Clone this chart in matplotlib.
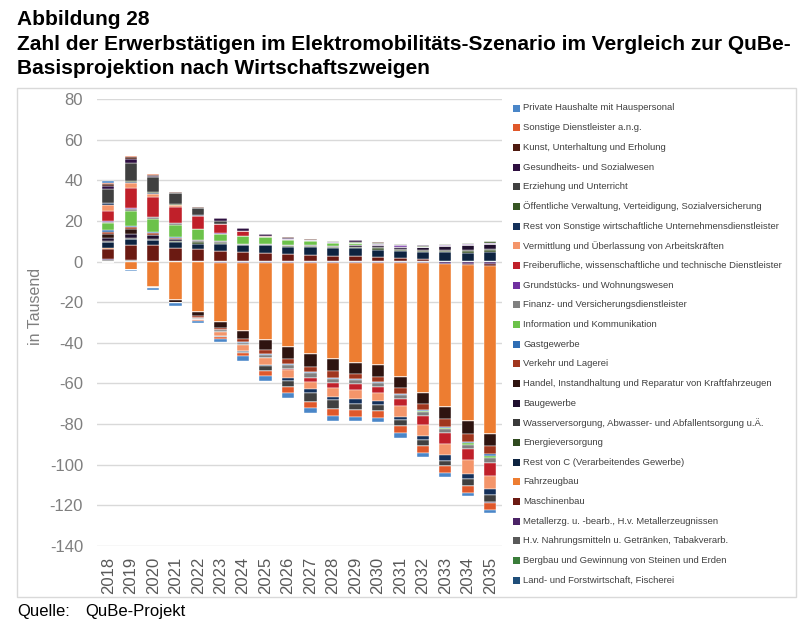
import matplotlib
matplotlib.use("Agg")
import matplotlib.pyplot as plt
import numpy as np
from matplotlib.patches import Rectangle

plt.rcParams['font.family'] = ['Liberation Sans', 'DejaVu Sans']
plt.rcParams['axes.unicode_minus'] = False

years = [str(y) for y in range(2018, 2036)]

# series in stacking order (first = bottom of positive stack / nearest zero on negative side)
land       = [0.2, 0.1, 0.1, 0.1, 0.1, 0.1, 0.1, 0.1, 0.1, 0.1, 0.1, 0.1, 0.1, 0.1, 0.1, 0.1, 0.1, 0.1]
bergbau    = [0.1, 0.1, 0.1, 0.0, 0.0, 0.0, 0.0, 0.0, 0.0, 0.0, 0.0, 0.0, 0.0, 0.0, 0.0, 0.0, 0.0, 0.0]
nahrung    = [0.4, 0.6, 0.3, 0.2, 0.2, 0.2, 0.2, 0.1, 0.1, 0.1, 0.1, 0.1, 0.1, 0.1, 0.1, 0.1, 0.1, 0.1]
metall     = [0.4, -0.2, -0.3, -0.4, -0.4, -0.5, -0.5, -0.6, -0.6, -0.6, -0.6, -0.6, -0.6, -0.6, -0.6, -1.0, -1.1, -1.1]
maschinen  = [5.1, 7.4, 7.4, 6.6, 5.7, 4.9, 4.4, 3.8, 3.3, 2.8, 2.5, 2.5, 2.1, 1.3, 1.0, 0.2, -0.6, -1.2]
fahrzeug   = [0.7, -3.9, -12.0, -18.5, -24.2, -29.2, -33.9, -38.0, -41.7, -45.0, -47.5, -49.4, -50.5, -56.0, -63.9, -70.6, -76.8, -82.4]
rest_c     = [2.5, 2.8, 2.5, 2.8, 2.8, 3.3, 3.3, 3.9, 3.8, 4.1, 4.1, 3.8, 3.6, 3.8, 3.3, 4.2, 4.1, 4.5]
energie    = [0.3, 0.3, 0.3, 0.3, 0.6, 0.5, 0.3, 0.3, 0.4, 0.4, 0.4, 0.5, 0.8, 0.6, 0.8, 0.6, 0.7, 0.9]
wasser     = [0.3, 0.3, 0.3, 0.3, 0.7, 0.6, 0.2, 0.2, 0.2, 0.2, 0.2, 0.3, 0.6, 0.5, 0.6, 0.5, 0.6, 0.7]
bau        = [1.6, 2.2, 1.9, 1.0, 0.3, 0.3, 0.3, 0.3, 0.3, 0.2, 0.3, 0.6, 0.6, 0.8, 1.3, 2.0, 2.4, 2.4]
handel     = [2.0, 2.1, -0.5, -1.6, -2.2, -3.1, -3.8, -5.1, -5.8, -6.2, -5.7, -5.2, -5.5, -5.8, -5.7, -6.0, -6.5, -6.1]
verkehr    = [1.0, 1.3, 1.3, 0.5, -0.8, -0.8, -1.3, -2.0, -2.5, -2.8, -3.3, -2.5, -2.5, -2.6, -3.0, -3.6, -3.6, -4.1]
gast       = [1.0, 0.3, 0.2, 0.1, -0.1, -0.2, -0.6, -0.5, -0.5, -0.5, -0.5, -0.6, -0.5, -0.5, -0.6, -0.5, -0.6, -0.6]
info       = [3.3, 7.2, 6.4, 6.0, 5.7, 3.9, 3.8, 3.3, 2.6, 2.0, 1.5, 1.1, 0.4, 0.2, -0.2, -0.5, -1.0, -1.3]
finanz     = [0.8, 1.3, 1.0, 1.0, -0.6, -0.8, -1.0, -1.5, -2.0, -2.0, -2.0, -2.2, -2.0, -2.2, -2.0, -2.0, -2.2, -2.5]
grund      = [0.2, 0.2, 0.1, 0.1, 0.1, 0.1, 0.1, 0.1, 0.4, 0.5, 0.5, 0.3, 0.3, 0.5, 0.2, 0.2, 0.5, 0.6]
freib      = [4.9, 10.2, 10.1, 8.0, 6.2, 4.6, 2.3, 0.6, -0.5, -2.1, -2.8, -2.9, -2.9, -3.3, -4.6, -5.4, -5.4, -6.3]
vermittl   = [3.0, 2.1, 1.0, 0.6, -0.5, -1.8, -2.8, -3.0, -3.6, -3.6, -4.3, -4.1, -4.1, -5.3, -5.2, -5.8, -6.9, -6.5]
rest_sonst = [0.8, 0.8, 0.8, 0.4, 0.3, -0.6, -0.6, -0.8, -1.6, -2.0, -1.6, -2.5, -2.2, -1.8, -2.2, -2.7, -2.5, -2.8]
oeffentl   = [0.2, 0.5, 0.2, 0.2, 0.2, 0.2, 0.1, 0.1, 0.1, 0.2, 0.2, 0.5, 0.5, 0.5, 0.4, 0.5, 0.6, 0.8]
erziehung  = [7.0, 8.5, 7.6, 5.5, 3.4, 1.5, -0.7, -2.5, -3.0, -4.1, -4.1, -2.9, -2.8, -2.8, -2.8, -2.5, -3.3, -3.3]
gesundheit = [1.6, 2.0, 0.3, 0.2, 0.2, 1.0, 1.2, 0.8, 0.5, 0.2, 0.2, 0.6, 0.2, 0.2, 0.1, 0.1, 0.1, -0.5]
kunst      = [1.0, 1.0, 0.8, 0.1, 0.1, 0.1, 0.1, 0.1, 0.1, 0.1, 0.1, 0.1, 0.1, 0.1, 0.1, 0.1, 0.1, 0.1]
sonst_dl   = [0.5, 0.8, 0.3, 0.1, -0.4, -1.3, -1.5, -2.5, -3.1, -3.3, -3.6, -3.4, -3.3, -3.3, -3.3, -3.6, -3.2, -3.6]
private    = [0.6, -0.4, -1.1, -1.3, -0.9, -1.3, -2.1, -2.1, -2.5, -2.5, -2.5, -2.1, -2.1, -2.5, -2.1, -1.7, -1.7, -1.7]

names = [
    "Land- und Forstwirtschaft, Fischerei",
    "Bergbau und Gewinnung von Steinen und Erden",
    "H.v. Nahrungsmitteln u. Getränken, Tabakverarb.",
    "Metallerzg. u. -bearb., H.v. Metallerzeugnissen",
    "Maschinenbau",
    "Fahrzeugbau",
    "Rest von C (Verarbeitendes Gewerbe)",
    "Energieversorgung",
    "Wasserversorgung, Abwasser- und Abfallentsorgung u.Ä.",
    "Baugewerbe",
    "Handel, Instandhaltung und Reparatur von Kraftfahrzeugen",
    "Verkehr und Lagerei",
    "Gastgewerbe",
    "Information und Kommunikation",
    "Finanz- und Versicherungsdienstleister",
    "Grundstücks- und Wohnungswesen",
    "Freiberufliche, wissenschaftliche und technische Dienstleister",
    "Vermittlung und Überlassung von Arbeitskräften",
    "Rest von Sonstige wirtschaftliche Unternehmensdienstleister",
    "Öffentliche Verwaltung, Verteidigung, Sozialversicherung",
    "Erziehung und Unterricht",
    "Gesundheits- und Sozialwesen",
    "Kunst, Unterhaltung und Erholung",
    "Sonstige Dienstleister a.n.g.",
    "Private Haushalte mit Hauspersonal",
]
series = [land, bergbau, nahrung, metall, maschinen, fahrzeug, rest_c, energie, wasser, bau,
          handel, verkehr, gast, info, finanz, grund, freib, vermittl, rest_sonst, oeffentl,
          erziehung, gesundheit, kunst, sonst_dl, private]
colors = ["#1F4E79", "#3A7D3A", "#595959", "#4B2366", "#6B1A12", "#ED7D31", "#0D2340",
          "#2F4A1F", "#3A3A3A", "#1F0F2E", "#2E1410", "#A0361E", "#2E6DB4", "#6CC24A",
          "#808080", "#7030A0", "#C0202A", "#F4956A", "#14305A", "#375623", "#404040",
          "#2E0F40", "#4E1A0F", "#E0582A", "#4A86C8"]

W, H = 803, 622
fig = plt.figure(figsize=(W / 100, H / 100), dpi=100)

# plot area
x0, x1, yt, yb = 97, 501.5, 99, 546
ax = fig.add_axes([x0 / W, 1 - yb / H, (x1 - x0) / W, (yb - yt) / H])

x = np.arange(len(years))
pos_base = np.zeros(len(years))
neg_base = np.zeros(len(years))
for vals, col in zip(series, colors):
    v = np.array(vals, dtype=float)
    p = np.where(v > 0, v, 0)
    n = np.where(v < 0, v, 0)
    ax.bar(x, p, 0.55, bottom=pos_base, color=col, edgecolor='white', linewidth=0.3, zorder=3)
    ax.bar(x, n, 0.55, bottom=neg_base, color=col, edgecolor='white', linewidth=0.3, zorder=3)
    pos_base += p
    neg_base += n

ax.set_xlim(-0.5, len(years) - 0.5)
ax.set_ylim(-140, 80)
ax.set_yticks(np.arange(-140, 81, 20))
ax.yaxis.grid(True, color="#D9D9D9", linewidth=1.0, zorder=0)
ax.set_axisbelow(True)
for s in ax.spines.values():
    s.set_visible(False)
ax.tick_params(axis='both', length=0)
ax.tick_params(axis='y', labelsize=12, labelcolor="#7F7F7F", pad=10)
ax.set_xticks(x)
ax.set_xticklabels(years, rotation=90, fontsize=12, color="#595959")
ax.tick_params(axis='x', pad=8)
ax.set_ylabel("in Tausend", fontsize=11.5, color="#7F7F7F")
ax.yaxis.set_label_coords((43 - x0) / (x1 - x0), (yb - 306) / (yb - yt))

# legend (reverse order, as in the reference)
lx, ly0, dy = 513, 108, 19.67
for i, idx in enumerate(range(len(names) - 1, -1, -1)):
    yy = ly0 + i * dy
    fig.patches.append(Rectangle((lx / W, 1 - (yy + 3.5) / H), 7 / W, 7 / H,
                                 transform=fig.transFigure, facecolor=colors[idx],
                                 edgecolor='none'))
    fig.text(523 / W, 1 - yy / H, names[idx], fontsize=6.8, color="#404040",
             va='center', ha='left')

# outer frame
fig.patches.append(Rectangle((17 / W, 1 - 597 / H), (796 - 17) / W, (597 - 88) / H,
                             transform=fig.transFigure, facecolor='none',
                             edgecolor="#D9D9D9", linewidth=1.0))

# title
tfs = 15
fig.text(17 / W, 1 - 25 / H, "Abbildung 28", fontsize=tfs, fontweight='bold', va='baseline')
fig.text(17 / W, 1 - 49.5 / H,
         "Zahl der Erwerbstätigen im Elektromobilitäts-Szenario im Vergleich zur QuBe-",
         fontsize=tfs, fontweight='bold', va='baseline')
fig.text(17 / W, 1 - 74 / H, "Basisprojektion nach Wirtschaftszweigen",
         fontsize=tfs, fontweight='bold', va='baseline')

# source
fig.text(17 / W, 1 - 616 / H, "Quelle:", fontsize=12, va='baseline')
fig.text(85 / W, 1 - 616 / H, "QuBe-Projekt", fontsize=12, va='baseline')

fig.savefig("out.png", dpi=100)
